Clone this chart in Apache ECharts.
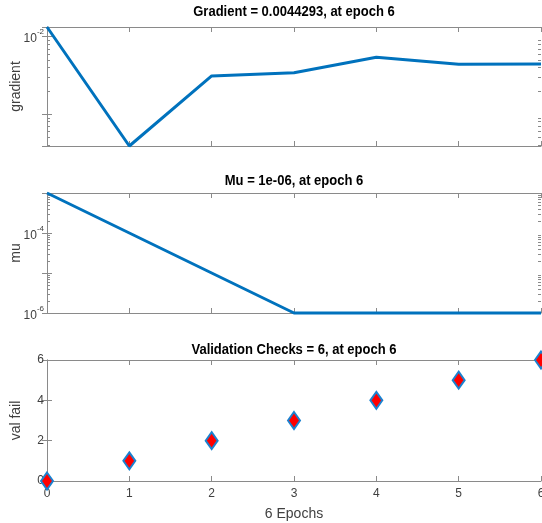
<!DOCTYPE html>
<html><head><meta charset="utf-8">
<script src="https://cdn.jsdelivr.net/npm/echarts@6/dist/echarts.min.js"></script>
<style>html,body{margin:0;padding:0;background:#fff}#c{width:542px;height:523px}</style>
</head><body><div id="c"></div>
<script>
// ---------- data ----------
const epochs = [0, 1, 2, 3, 4, 5, 6];
const gradient = [1.33e-2, 3.86e-4, 3.10e-3, 3.42e-3, 5.41e-3, 4.40e-3, 4.4293e-3];
const mu = [1e-3, 1e-4, 1e-5, 1e-6, 1e-6, 1e-6, 1e-6];
const valFail = [0, 1, 2, 3, 4, 5, 6];

const titles = ['Gradient = 0.0044293, at epoch 6', 'Mu = 1e-06, at epoch 6', 'Validation Checks = 6, at epoch 6'];
const yNames = ['gradient', 'mu', 'val fail'];
const xName = '6 Epochs';

const gradientTickLabels = [1e-2];
const muTickLabels = [1e-6, 1e-4];
const gradientMinorTicks = [4e-4, 5e-4, 6e-4, 7e-4, 8e-4, 9e-4, 2e-3, 3e-3, 4e-3, 5e-3, 6e-3, 7e-3, 8e-3, 9e-3];
const muMinorTicks = [2e-6, 3e-6, 4e-6, 5e-6, 6e-6, 7e-6, 8e-6, 9e-6,
                      2e-5, 3e-5, 4e-5, 5e-5, 6e-5, 7e-5, 8e-5, 9e-5,
                      2e-4, 3e-4, 4e-4, 5e-4, 6e-4, 7e-4, 8e-4, 9e-4];
const valFailMin = 0, valFailMax = 6, valFailStep = 2;

// ---------- styling ----------
const axisColor = '#8a8a8a';
const labelColor = '#404040';
const lineBlue = '#0072BD';
const FONT = 'Liberation Sans, Arial, sans-serif';
const TITLE_FONT = '"Liberation Sans", Arial, sans-serif';

const gridBase = { left: 47, right: 1, containLabel: false, outerBoundsMode: 'none' };
const grids = [
  Object.assign({ top: 27, height: 119 }, gridBase),
  Object.assign({ top: 193, height: 120 }, gridBase),
  Object.assign({ top: 360, height: 121 }, gridBase)
];
const titleY = [12, 181, 350];

const xMin = epochs[0], xMax = epochs[epochs.length - 1];

function xAxesFor(g, withLabels) {
  const common = {
    type: 'value', gridIndex: g, min: xMin, max: xMax, interval: 1,
    axisLine: { show: true, onZero: false, lineStyle: { color: axisColor, width: 1 } },
    axisTick: { show: true, inside: true, length: 5, lineStyle: { color: axisColor } },
    splitLine: { show: false }
  };
  return [
    Object.assign({}, common, {
      position: 'bottom',
      axisLabel: { show: withLabels, color: labelColor, fontFamily: FONT, fontSize: 12, margin: 7 },
      name: withLabels ? xName : '',
      nameLocation: 'middle', nameGap: 26, nameMoveOverlap: false,
      nameTextStyle: { color: labelColor, fontFamily: FONT, fontSize: 14 }
    }),
    Object.assign({}, common, { position: 'top', axisLabel: { show: false } })
  ];
}

function powFormatter(list) {
  return function (v) {
    const hit = list.some(t => Math.abs(Math.log10(v) - Math.log10(t)) < 1e-6);
    return hit ? '{b|10}{s|' + Math.round(Math.log10(v)) + '}' : '';
  };
}
const powRich = {
  b: { fontSize: 12, color: labelColor, fontFamily: FONT, padding: [5, 0, 0, 0] },
  s: { fontSize: 8, color: labelColor, fontFamily: FONT, verticalAlign: 'top' }
};

function yAxesFor(g, spec) {
  const common = Object.assign({
    gridIndex: g,
    axisLine: { show: true, lineStyle: { color: axisColor, width: 1 } },
    axisTick: { show: true, inside: true, length: 5, lineStyle: { color: axisColor } },
    splitLine: { show: false }
  }, spec.scale);
  return [
    Object.assign({}, common, {
      position: 'left',
      axisLabel: Object.assign({ show: true, color: labelColor, fontFamily: FONT, fontSize: 12, margin: 3 }, spec.label),
      name: yNames[g], nameLocation: 'middle', nameGap: 24, nameMoveOverlap: false,
      nameTextStyle: { color: labelColor, fontFamily: FONT, fontSize: 14 }
    }),
    Object.assign({}, common, { position: 'right', axisLabel: { show: false } })
  ];
}

function minorTickSeries(g, values) {
  return {
    type: 'custom', xAxisIndex: 2 * g, yAxisIndex: 2 * g, silent: true, clip: false, z: 3,
    data: values.map(v => [xMin, v]),
    renderItem: function (params, api) {
      const v = api.value(1);
      const a = api.coord([xMin, v]);
      const b = api.coord([xMax, v]);
      const y = Math.round(a[1]) + 0.5;
      return {
        type: 'group', children: [
          { type: 'line', shape: { x1: a[0], y1: y, x2: a[0] + 3, y2: y }, style: { stroke: axisColor, lineWidth: 1 } },
          { type: 'line', shape: { x1: b[0] - 3, y1: y, x2: b[0], y2: y }, style: { stroke: axisColor, lineWidth: 1 } }
        ]
      };
    }
  };
}

const xAxis = [].concat(xAxesFor(0, false), xAxesFor(1, false), xAxesFor(2, true));
const yAxis = [].concat(
  yAxesFor(0, {
    scale: { type: 'log', logBase: 10, min: Math.min.apply(null, gradient), max: Math.max.apply(null, gradient) },
    label: { formatter: powFormatter(gradientTickLabels), rich: powRich, showMinLabel: false, showMaxLabel: false }
  }),
  yAxesFor(1, {
    scale: { type: 'log', logBase: 10, min: Math.min.apply(null, mu), max: Math.max.apply(null, mu) },
    label: { formatter: powFormatter(muTickLabels), rich: powRich }
  }),
  yAxesFor(2, {
    scale: { type: 'value', min: valFailMin, max: valFailMax, interval: valFailStep },
    label: {}
  })
);

const option = {
  animation: false,
  backgroundColor: '#ffffff',
  grid: grids,
  xAxis: xAxis,
  yAxis: yAxis,
  graphic: titles.map((t, i) => ({
    type: 'text', x: 47 + (542 - 1 - 47) / 2, y: titleY[i], z: 10, scaleX: 0.93,
    style: { text: t, textAlign: 'center', textVerticalAlign: 'middle', fill: '#000', fontFamily: TITLE_FONT, fontWeight: 'bold', fontSize: 14 }
  })),
  series: [
    {
      type: 'line', xAxisIndex: 0, yAxisIndex: 0, showSymbol: false, clip: false, z: 5,
      data: epochs.map((e, i) => [e, gradient[i]]),
      lineStyle: { color: lineBlue, width: 3 }
    },
    {
      type: 'line', xAxisIndex: 2, yAxisIndex: 2, showSymbol: false, clip: false, z: 5,
      data: epochs.map((e, i) => [e, mu[i]]),
      lineStyle: { color: lineBlue, width: 3 }
    },
    {
      type: 'scatter', xAxisIndex: 4, yAxisIndex: 4, clip: false, z: 6,
      symbol: 'diamond', symbolSize: [12, 17],
      data: epochs.map((e, i) => [e, valFail[i]]),
      itemStyle: { color: '#ff0000', borderColor: '#1a82d0', borderWidth: 2, opacity: 1 }
    },
    minorTickSeries(0, gradientMinorTicks),
    minorTickSeries(1, muMinorTicks)
  ]
};

const chart = echarts.init(document.getElementById('c'), null, { renderer: 'canvas' });
chart.setOption(option);
</script>
</body></html>
